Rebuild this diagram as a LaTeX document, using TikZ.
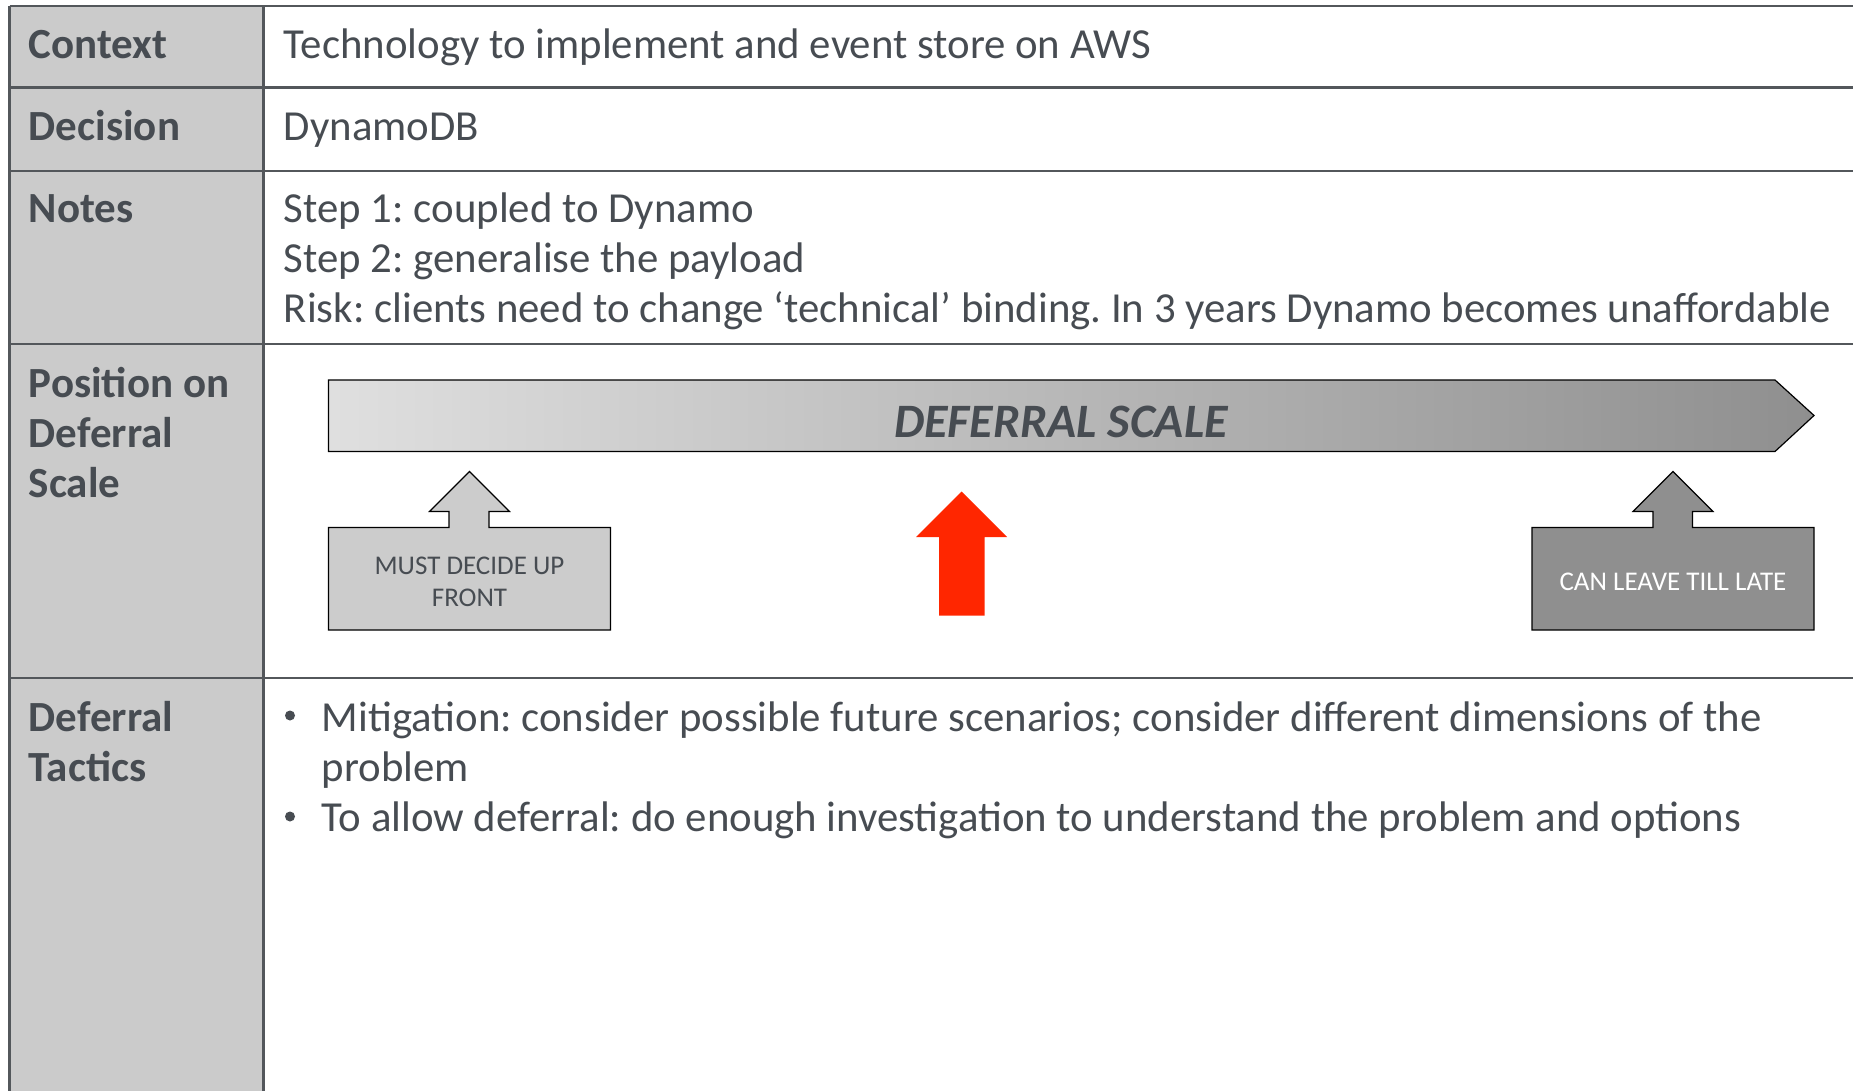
\documentclass[tikz,border=0pt]{standalone}
\usepackage{fontspec}
\setmainfont{Carlito}
\usepackage{xcolor}
\usepackage{tikz}
\usetikzlibrary{positioning}
\frenchspacing

\definecolor{inktext}{HTML}{474C52}
\definecolor{rulegray}{HTML}{53575B}
\definecolor{labelgray}{HTML}{CBCBCB}
\definecolor{earlygray}{HTML}{CCCCCC}
\definecolor{lategray}{HTML}{8F8F8F}
\definecolor{nowred}{HTML}{FF2600}

\begin{document}
\begin{tikzpicture}[
		x=0.5pt, y=-0.5pt,
		rowlabel/.style = {anchor=base west, inner sep=0pt, text=inktext,
				font=\bfseries\fontsize{21.5}{25}\selectfont},
		celltext/.style = {anchor=base west, inner sep=0pt, text=inktext,
				font=\fontsize{21.4}{25}\selectfont},
		bulletdot/.style = {circle, fill=inktext, inner sep=0pt, minimum size=5pt},
		rule/.style = {draw=rulegray, line width=1.4pt},
		callout/.style = {draw=black, line width=0.6pt},
		calloutlabel/.style = {align=center, inner sep=0pt,
				font=\fontsize{13.5}{16}\selectfont},
	]
	\useasboundingbox (0,0) rectangle (1853,1091);

	% Label column and grid
	\fill [labelgray] (9.5,6) rectangle (263.5,1091);
	\foreach \y in {6, 87.5, 171, 344, 678}
	\draw [rule] (9.5,\y) -- (1853,\y);
	\draw [rule] (9.5,6) -- (9.5,1091);
	\draw [rule] (263.5,6) -- (263.5,1091);

	% Context / Decision
	\node [rowlabel] (context) at (28.5,58.5) {Context};
	\node [celltext] (contexttxt) at (283.5,58.5) {Technology to implement and event store on AWS};
	\node [rowlabel] (decision) at (28.5,140.5) {Decision};
	\node [celltext] (decisiontxt) at (283.5,140.5) {DynamoDB};

	% Notes
	\node [rowlabel] (notes) at (28.5,222.5) {Notes};
	\node [celltext] (noteA) at (283.5,222.5) {Step 1: coupled to Dynamo};
	\node [celltext] (noteB) at ([yshift=-25pt]noteA.base west) {Step 2: generalise the payload};
	\node [celltext] (noteC) at ([yshift=-25pt]noteB.base west) {Risk: clients need to change ‘technical’ binding. In 3 years Dynamo becomes unaffordable};

	% Position on deferral scale
	\node [rowlabel] (posA) at (28.5,397.5) {Position on};
	\node [rowlabel] (posB) at ([yshift=-25pt]posA.base west) {Deferral};
	\node [rowlabel] (posC) at ([yshift=-25pt]posB.base west) {Scale};

	\draw [line width=0.6pt, left color=gray!25, right color=lategray]
		(328.5,380) -- (1775,380) -- (1814,415.5) -- (1775,451.5) -- (328.5,451.5) -- cycle;
	\node [inner sep=0pt, text=inktext, font=\bfseries\itshape\fontsize{24}{28}\selectfont]
		(scale) at (1061,422) {DEFERRAL SCALE};

	% Must decide up front
	\draw [callout, fill=earlygray]
		(328.5,527.5) -- (449,527.5) -- (449,511.5) -- (429.5,511.5) -- (469.5,471.5)
		-- (509.5,511.5) -- (489,511.5) -- (489,527.5) -- (610.5,527.5)
		-- (610.5,630) -- (328.5,630) -- cycle;
	\node [calloutlabel, text=inktext] (early) at (469.5,582) {MUST DECIDE UP\\FRONT};

	% Can leave till late
	\draw [callout, fill=lategray]
		(1532,527.5) -- (1653,527.5) -- (1653,511.5) -- (1633,511.5) -- (1673,471.5)
		-- (1713,511.5) -- (1692.5,511.5) -- (1692.5,527.5) -- (1814,527.5)
		-- (1814,630) -- (1532,630) -- cycle;
	\node [calloutlabel, text=white] (late) at (1673,581.5) {CAN LEAVE TILL LATE};

	% This decision
	\fill [nowred]
		(939,615.5) -- (939,537) -- (916,537) -- (961.5,491.5) -- (1007,537)
		-- (984.5,537) -- (984.5,615.5) -- cycle;

	% Deferral tactics
	\node [rowlabel] (tacA) at (28.5,731) {Deferral};
	\node [rowlabel] (tacB) at ([yshift=-25pt]tacA.base west) {Tactics};
	\node [bulletdot] (bulletA) at (290,715.5) {};
	\node [celltext] (tacticA) at (321.5,731) {Mitigation: consider possible future scenarios; consider different dimensions of the};
	\node [celltext] (tacticAb) at ([yshift=-25pt]tacticA.base west) {problem};
	\node [bulletdot] (bulletB) at (290,816.5) {};
	\node [celltext] (tacticB) at ([yshift=-25pt]tacticAb.base west) {To allow deferral: do enough investigation to understand the problem and options};
\end{tikzpicture}
\end{document}
